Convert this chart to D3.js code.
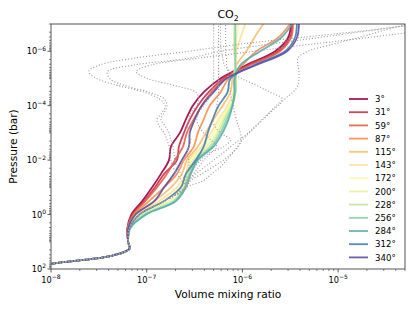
<!DOCTYPE html>
<html>
<head>
<meta charset="utf-8">
<script src="https://cdn.jsdelivr.net/npm/d3@7"></script>
<style>
  body { margin: 0; background: #fff; }
  text { font-family: "DejaVu Sans", sans-serif; fill: #000; }
</style>
</head>
<body>
<div id="chart"></div>
<script>
// chart size and plot area
const svgWidth = 415;
const svgHeight = 311;
const margin = { top: 24, right: 10, bottom: 42, left: 51 };
const width = 405 - margin.left;
const height = 269 - margin.top;

// latitude labels of the coloured profiles
const latitudes = ['3°', '31°', '59°', '87°', '115°', '143°', '172°', '200°', '228°', '256°', '284°', '312°', '340°'];

// pressure grid (bar) of the coloured profiles
const pressure = [100, 56, 32, 18, 10, 3.2, 1, 0.32, 0.1, 0.032, 0.01, 3.2e-3, 1e-3, 3.2e-4, 1e-4,
  3.2e-5, 1e-5, 3.2e-6, 1e-6, 3.2e-7, 1e-7];

// CO2 volume mixing ratio, one array per latitude
const vmr3 = [4.2e-9, 1.33e-8, 4.4e-8, 6.6e-8, 6.4e-8, 6.3e-8, 6.9e-8, 8.98e-8, 1.14e-7, 1.41e-7, 1.71e-7,
  1.79e-7, 2.22e-7, 2.57e-7, 3.03e-7, 3.94e-7, 5.91e-7, 1.1e-6, 2.2e-6, 3.0e-6, 3.22e-6];
const vmr31 = [4.2e-9, 1.33e-8, 4.4e-8, 6.6e-8, 6.4e-8, 6.3e-8, 7.07e-8, 9.42e-8, 1.22e-7, 1.52e-7, 2.07e-7,
  2.17e-7, 2.45e-7, 2.82e-7, 3.42e-7, 4.44e-7, 6.36e-7, 1.15e-6, 2.36e-6, 3.14e-6, 3.3e-6];
const vmr59 = [4.2e-9, 1.33e-8, 4.4e-8, 6.6e-8, 6.4e-8, 6.3e-8, 7.25e-8, 9.65e-8, 1.28e-7, 1.63e-7, 1.97e-7,
  2.39e-7, 2.63e-7, 3.1e-7, 3.76e-7, 4.77e-7, 6.67e-7, 1.21e-6, 2.48e-6, 3.22e-6, 3.38e-6];
const vmr87 = [4.2e-9, 1.33e-8, 4.4e-8, 6.6e-8, 6.4e-8, 6.4e-8, 7.42e-8, 1.06e-7, 1.52e-7, 2.07e-7, 2.45e-7,
  3.1e-7, 3.42e-7, 3.94e-7, 4.55e-7, 5.91e-7, 7.16e-7, 1.0e-6, 1.4e-6, 2.36e-6, 3.14e-6];
const vmr115 = [4.2e-9, 1.33e-8, 4.4e-8, 6.6e-8, 6.4e-8, 6.4e-8, 7.6e-8, 1.2e-7, 1.79e-7, 2.33e-7, 2.63e-7,
  3.42e-7, 4.14e-7, 5.0e-7, 6.2e-7, 7.51e-7, 7.88e-7, 8.67e-7, 1.1e-6, 1.33e-6, 1.65e-6];
const vmr143 = [4.2e-9, 1.33e-8, 4.4e-8, 6.6e-8, 6.4e-8, 6.6e-8, 7.97e-8, 1.35e-7, 2.07e-7, 2.57e-7, 2.76e-7,
  3.76e-7, 4.66e-7, 5.64e-7, 7.0e-7, 8.07e-7, 8.26e-7, 8.46e-7, 8.67e-7, 9.53e-7, 1.07e-6];
const vmr172 = [4.2e-9, 1.33e-8, 4.4e-8, 6.6e-8, 6.4e-8, 6.6e-8, 8.36e-8, 1.52e-7, 2.22e-7, 2.63e-7, 2.89e-7,
  3.94e-7, 5.0e-7, 5.91e-7, 7.33e-7, 8.26e-7, 8.46e-7, 8.46e-7, 8.46e-7, 8.67e-7, 9.09e-7];
const vmr200 = [4.2e-9, 1.33e-8, 4.4e-8, 6.6e-8, 6.4e-8, 6.7e-8, 8.77e-8, 1.71e-7, 2.33e-7, 2.69e-7, 3.03e-7,
  4.24e-7, 5.38e-7, 6.2e-7, 7.51e-7, 8.46e-7, 8.46e-7, 8.46e-7, 8.26e-7, 8.26e-7, 8.46e-7];
const vmr228 = [4.2e-9, 1.33e-8, 4.4e-8, 6.6e-8, 6.4e-8, 6.7e-8, 9.2e-8, 1.88e-7, 2.45e-7, 2.76e-7, 3.18e-7,
  4.55e-7, 5.64e-7, 6.51e-7, 7.69e-7, 8.46e-7, 8.46e-7, 8.46e-7, 8.26e-7, 8.26e-7, 8.26e-7];
const vmr256 = [4.2e-9, 1.33e-8, 4.4e-8, 6.6e-8, 6.4e-8, 6.7e-8, 9.65e-8, 1.97e-7, 2.5e-7, 2.82e-7, 3.34e-7,
  4.77e-7, 5.91e-7, 6.83e-7, 7.88e-7, 8.46e-7, 8.46e-7, 8.46e-7, 8.46e-7, 8.46e-7, 8.46e-7];
const vmr284 = [4.2e-9, 1.33e-8, 4.4e-8, 6.6e-8, 6.4e-8, 6.7e-8, 9.88e-8, 2.02e-7, 2.57e-7, 2.89e-7, 3.42e-7,
  5.0e-7, 6.2e-7, 7.16e-7, 7.88e-7, 8.26e-7, 8.26e-7, 9.53e-7, 1.54e-6, 2.54e-6, 3.3e-6];
const vmr312 = [4.2e-9, 1.33e-8, 4.4e-8, 6.6e-8, 6.4e-8, 6.6e-8, 8.36e-8, 1.52e-7, 2.28e-7, 2.57e-7, 3.26e-7,
  3.94e-7, 4.34e-7, 4.89e-7, 5.64e-7, 7.0e-7, 7.51e-7, 1.33e-6, 2.79e-6, 3.54e-6, 3.71e-6];
const vmr340 = [4.2e-9, 1.33e-8, 4.4e-8, 6.6e-8, 6.4e-8, 6.4e-8, 7.6e-8, 1.2e-7, 1.52e-7, 1.93e-7, 2.33e-7,
  2.76e-7, 2.82e-7, 3.18e-7, 3.76e-7, 5.0e-7, 6.83e-7, 1.4e-6, 2.93e-6, 3.71e-6, 3.9e-6];

// finer pressure grid (bar) of the grey dotted profiles
const grayPressure = [100, 56, 32, 18, 10, 3.2, 1, 0.32, 0.1, 0.056, 0.032, 0.018, 0.01, 5.6e-3, 3.2e-3,
  1.8e-3, 1e-3, 5.6e-4, 3.2e-4, 1.8e-4, 1e-4, 5.6e-5, 3.2e-5, 1.8e-5, 1e-5, 5.6e-6, 3.2e-6, 1.8e-6,
  1e-6, 5.6e-7, 3.2e-7, 1.8e-7, 1e-7];
const grayBase = [4.2e-9, 1.33e-8, 4.4e-8, 6.6e-8, 6.4e-8, 6.6e-8, 8.4e-8, 1.52e-7, 2.57e-7];

const gray1 = [2.33e-7, 2.07e-7, 1.88e-7, 1.79e-7, 1.75e-7, 1.71e-7, 1.63e-7, 1.52e-7, 1.35e-7, 1.28e-7,
  1.45e-7, 1.56e-7, 1.35e-7, 9.42e-8, 4.95e-8, 3.0e-8, 2.48e-8, 3.22e-8, 7.42e-8, 2.76e-7, 9.09e-7,
  3.8e-6, 1.8e-5, 7.5e-5];
const gray2 = [2.5e-7, 2.28e-7, 2.07e-7, 1.97e-7, 1.93e-7, 1.88e-7, 1.79e-7, 1.71e-7, 1.56e-7, 1.41e-7,
  1.52e-7, 1.63e-7, 1.52e-7, 1.06e-7, 5.85e-8, 4.09e-8, 3.9e-8, 7.42e-8, 2.76e-7, 5.91e-7, 1.86e-6,
  6.1e-6, 2.02e-5, 6.7e-5];
const gray3 = [2.57e-7, 2.63e-7, 2.76e-7, 2.76e-7, 2.63e-7, 2.76e-7, 2.89e-7, 2.76e-7, 2.63e-7, 2.76e-7,
  2.89e-7, 3.34e-7, 3.5e-7, 3.26e-7, 1.93e-7, 1.01e-7, 7.78e-8, 1.11e-7, 3.5e-7, 1.33e-6, 5.07e-6,
  1.97e-5, 7.5e-5, 2.79e-4];
const gray4 = [3.94e-7, 4.77e-7, 5.91e-7, 6.83e-7, 7.88e-7, 8.87e-7, 1.0e-6, 1.18e-6, 1.4e-6, 1.61e-6,
  1.9e-6, 2.25e-6, 2.6e-6, 1.95e-6, 1.4e-6, 9.76e-7, 7.51e-7, 6.51e-7, 6.2e-7, 6.06e-7, 5.91e-7,
  5.91e-7, 5.91e-7, 5.91e-7];
const gray5 = [2.89e-7, 3.76e-7, 4.89e-7, 6.36e-7, 7.69e-7, 9.09e-7, 9.76e-7, 9.53e-7, 9.09e-7, 8.67e-7,
  8.26e-7, 8.07e-7, 7.69e-7, 7.51e-7, 7.33e-7, 7.16e-7, 7.0e-7, 6.83e-7, 6.83e-7, 6.67e-7, 6.67e-7,
  6.67e-7, 6.67e-7, 6.67e-7];
const gray6 = [2.76e-7, 3.1e-7, 3.5e-7, 3.94e-7, 4.66e-7, 5.38e-7, 4.66e-7, 3.94e-7, 3.5e-7, 3.34e-7,
  3.5e-7, 3.94e-7, 4.44e-7, 4.77e-7, 4.89e-7, 5.0e-7, 5.0e-7, 5.0e-7, 5.0e-7, 5.0e-7, 5.0e-7, 5.0e-7,
  5.0e-7, 5.0e-7];
const gray7 = [2.76e-7, 3.26e-7, 4.04e-7, 5.0e-7, 6.2e-7, 7.51e-7, 9.31e-7, 1.15e-6, 1.36e-6, 1.65e-6,
  1.95e-6, 2.36e-6, 2.79e-6, 3.38e-6, 3.8e-6, 3.9e-6, 3.9e-6, 3.8e-6, 3.8e-6, 4.83e-6, 8.77e-6, 1.6e-5,
  2.89e-5, 5.25e-5];
const gray8 = [2.63e-7, 2.89e-7, 3.18e-7, 3.67e-7, 4.44e-7, 6.36e-7, 7.51e-7, 5.91e-7, 5.13e-7, 4.89e-7,
  5.13e-7, 5.38e-7, 5.51e-7, 5.64e-7, 5.64e-7, 5.64e-7, 5.64e-7, 5.64e-7, 5.64e-7, 5.64e-7, 5.64e-7,
  5.64e-7, 5.64e-7, 5.64e-7];

// tick values
const xMajorTicks = [1e-8, 1e-7, 1e-6, 1e-5];
const xTickExp = ['−8', '−7', '−6', '−5'];
const yMajorTicks = [1e-6, 1e-4, 1e-2, 1, 1e2];
const yTickExp = ['−6', '−4', '−2', '0', '2'];

const colorSeries = [vmr3, vmr31, vmr59, vmr87, vmr115, vmr143, vmr172, vmr200, vmr228, vmr256, vmr284, vmr312, vmr340];
const graySeries = [gray1, gray2, gray3, gray4, gray5, gray6, gray7, gray8];

const svg = d3.select('#chart').append('svg')
  .attr('width', svgWidth)
  .attr('height', svgHeight);

const chartGroup = svg.append('g')
  .attr('transform', `translate(${margin.left}, ${margin.top})`);

// scales
const xScale = d3.scaleLog().domain([1e-8, 5e-5]).range([0, width]);
const yScale = d3.scaleLog().domain([1e2, 1e-7]).range([height, 0]);
const colour = i => d3.interpolateSpectral(i / 12);

svg.append('clipPath').attr('id', 'plotClip')
  .append('rect').attr('width', width).attr('height', height);

const line = d3.line()
  .x(d => xScale(d[0]))
  .y(d => yScale(d[1]))
  .curve(d3.curveCatmullRom.alpha(0.5));

const plot = chartGroup.append('g').attr('clip-path', 'url(#plotClip)');

// coloured profiles
plot.selectAll('.profile')
  .data(colorSeries)
  .enter()
  .append('path')
  .classed('profile', true)
  .attr('d', v => line(v.map((x, i) => [x, pressure[i]])))
  .attr('fill', 'none')
  .attr('stroke', (v, i) => colour(i))
  .attr('stroke-width', 1.8)
  .attr('opacity', 0.9);

// grey dotted profiles
plot.selectAll('.grayProfile')
  .data(graySeries)
  .enter()
  .append('path')
  .classed('grayProfile', true)
  .attr('d', v => line(grayBase.concat(v).map((x, i) => [x, grayPressure[i]])))
  .attr('fill', 'none')
  .attr('stroke', '#a0a0a0')
  .attr('stroke-width', 1.1)
  .attr('stroke-dasharray', '1.1,1.9');

// minor ticks
const xMinor = [];
[-8, -7, -6, -5].forEach(e => d3.range(2, 10).forEach(k => {
  const v = k * Math.pow(10, e);
  if (v <= 5e-5) xMinor.push(v);
}));
const yMinor = [];
d3.range(-7, 2).forEach(e => d3.range(1, 10).forEach(k => {
  if (k === 1 && e % 2 === 0) return;
  yMinor.push(k * Math.pow(10, e));
}));

const axisColour = '#333';
chartGroup.selectAll('.xMinor').data(xMinor).enter().append('line')
  .attr('x1', d => xScale(d)).attr('x2', d => xScale(d))
  .attr('y1', height).attr('y2', height + 2)
  .attr('stroke', axisColour).attr('stroke-width', 0.6);
chartGroup.selectAll('.yMinor').data(yMinor).enter().append('line')
  .attr('y1', d => yScale(d)).attr('y2', d => yScale(d))
  .attr('x1', 0).attr('x2', -2)
  .attr('stroke', axisColour).attr('stroke-width', 0.6);

// major ticks and labels
const xTicks = chartGroup.selectAll('.xMajor').data(xMajorTicks).enter().append('g')
  .attr('transform', d => `translate(${xScale(d)}, ${height})`);
xTicks.append('line').attr('y2', 3.5).attr('stroke', axisColour).attr('stroke-width', 0.8);
const xLab = xTicks.append('text').attr('y', 14).attr('text-anchor', 'middle').attr('font-size', 8.2);
xLab.append('tspan').text('10');
xLab.append('tspan').attr('dy', -3.8).attr('font-size', 6).text((d, i) => xTickExp[i]);

const yTicks = chartGroup.selectAll('.yMajor').data(yMajorTicks).enter().append('g')
  .attr('transform', d => `translate(0, ${yScale(d)})`);
yTicks.append('line').attr('x2', -3.5).attr('stroke', axisColour).attr('stroke-width', 0.8);
const yLab = yTicks.append('text').attr('x', -5).attr('y', 3.2).attr('text-anchor', 'end').attr('font-size', 8.2);
yLab.append('tspan').text('10');
yLab.append('tspan').attr('dy', -3.8).attr('font-size', 6).text((d, i) => yTickExp[i]);

// frame
chartGroup.append('rect')
  .attr('width', width).attr('height', height)
  .attr('fill', 'none').attr('stroke', '#444').attr('stroke-width', 0.9);

// title
const title = svg.append('text')
  .attr('x', margin.left + width / 2).attr('y', 18)
  .attr('text-anchor', 'middle').attr('font-size', 11);
title.append('tspan').text('CO');
title.append('tspan').attr('dy', 2.8).attr('font-size', 7.7).text('2');

// axis labels
svg.append('text')
  .attr('x', margin.left + width / 2).attr('y', 298)
  .attr('text-anchor', 'middle').attr('font-size', 10.6)
  .text('Volume mixing ratio');
svg.append('text')
  .attr('transform', `translate(17, ${margin.top + height / 2}) rotate(-90)`)
  .attr('text-anchor', 'middle').attr('font-size', 10.6)
  .text('Pressure (bar)');

// legend
const legend = svg.append('g').attr('transform', 'translate(349, 99)');
const legendRows = legend.selectAll('g').data(latitudes).enter().append('g')
  .attr('transform', (d, i) => `translate(0, ${i * 13.2})`);
legendRows.append('line')
  .attr('x1', 0).attr('x2', 19)
  .attr('stroke', (d, i) => colour(i)).attr('stroke-width', 1.8).attr('opacity', 0.9);
legendRows.append('text')
  .attr('x', 26).attr('y', 3.2)
  .attr('font-size', 8.6)
  .text(d => d);
</script>
</body>
</html>
